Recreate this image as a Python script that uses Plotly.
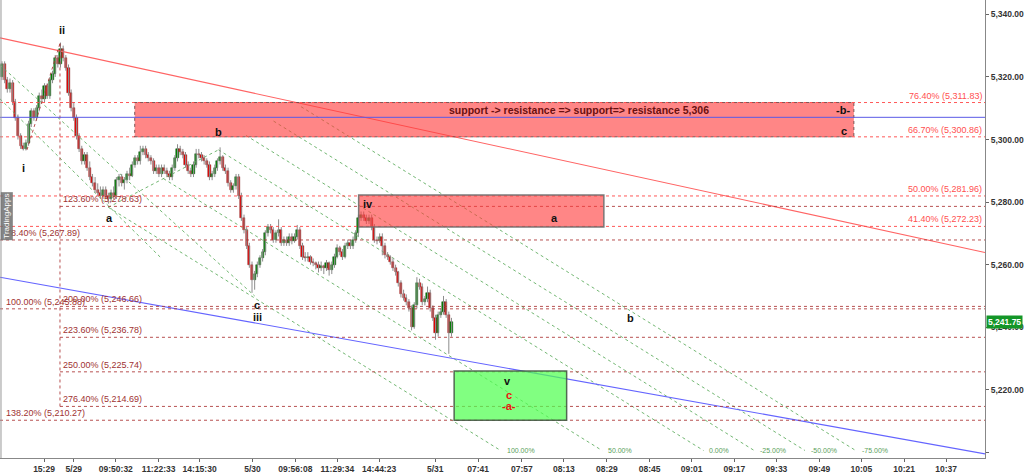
import plotly.graph_objects as go

# ---------------- data ----------------
opens = [5320,5324,5319,5316,5318,5312,5307,5301,5298,5297,5299,5305,5309,5307,5310,5314,5313,5317,5314,5319,
         5321,5326,5324,5329,5326,5323,5315,5310,5307,5301,5297,5293,5295,5291,5288,5286,5284,5283,5282,5284,
         5282,5281,5283,5282,5287,5288,5286,5287,5289,5288.5,5292,5294,5293,5296,5297,5295,5294,5293,5290,5291,
         5289,5291,5290,5289,5288,5291,5294,5297,5296,5295,5292,5290,5289,5292,5295.5,5295,5294,5293,5292,5288,
         5289,5291,5293,5294.5,5291,5290,5286,5284,5285,5288,5282,5275,5271,5266,5260,5255,5257,5260,5262,5264,
         5270,5272,5271,5268,5270,5271,5267,5268,5267,5269,5267.5,5269,5271,5266,5262.5,5262,5262.5,5261,5260.5,5260,
         5259,5259.5,5259,5260.5,5258.4,5260,5262.5,5265.4,5264,5262.5,5266,5267,5266,5268,5270,5275,5276,5275,5274,5275,
         5272,5268,5267.5,5269,5266,5263,5262.5,5261,5259,5257.5,5254,5250.5,5249.5,5248,5246,5240,5247,5254,5253,5248,
         5249,5251,5246,5243,5238,5244,5245,5248,5244,5238]
highs = [5325,5325,5320,5319.5,5319,5313,5308,5302,5299,5300,5306,5310,5310,5311,5315,5316,5318,5318,5320,5322,
         5327,5327,5331,5330,5327,5324,5316,5312,5308,5302,5298,5296,5296,5293,5289,5288,5286,5285,5285,5285,
         5283,5284,5285,5288,5289,5289,5288,5290,5291,5293,5295,5295,5298,5298,5298,5296,5295,5294,5292,5292,
         5292,5292,5291,5290,5292,5295,5298.5,5298,5297,5296,5293,5291,5293,5297,5297,5296,5295,5294,5293,5290,
         5292,5294,5297.5,5295,5292,5291,5287,5286,5289,5289,5283,5276,5272,5267,5261,5258,5261,5263,5265,5271,
         5273,5273,5272,5271,5274.5,5272,5269,5269,5270,5270,5270,5272.7,5272,5267,5264,5264,5263,5262,5261,5261,
         5261,5260,5261.5,5261,5261,5263.5,5266.5,5266,5265,5267,5268,5268,5269,5271,5276,5277,5277,5276,5276,5276,
         5273,5269,5270,5270,5267,5264,5263,5262,5260,5258,5255,5252,5250.5,5249,5247,5248,5256,5255.5,5254,5250,
         5253,5252,5247,5244,5245,5246,5250,5249,5245,5243]
lows = [5319,5318,5315,5315,5311,5306,5300,5297,5296.5,5296.5,5298,5304,5306,5306,5309,5312,5312,5313,5313,5318,
        5320,5323,5323,5325,5322,5314,5309,5306,5300,5296,5292,5292,5290,5287,5285,5283,5282,5281,5281,5281,
        5279.5,5280,5281,5281,5285,5285,5284,5286,5287,5288,5291,5292,5292,5295,5294,5293,5292,5289,5289,5288,
        5288,5289,5288,5287,5287,5290,5293,5295,5294,5291,5289,5288,5288,5291,5294,5293,5292,5291,5287,5287,
        5288,5290,5292,5290,5289,5285,5283,5283,5284,5281,5274,5270,5265,5259,5251,5252,5256,5259,5261,5263,
        5269,5270,5267,5267,5269,5266,5266,5266,5266,5266.5,5267,5268,5265,5261.5,5261,5261,5260,5259.5,5258.5,5257.5,
        5258,5257,5258,5256.5,5257,5259,5262,5263,5261.5,5262,5265,5265,5265,5267,5269,5274,5274,5273,5273,5271,
        5267,5266.5,5267,5263,5262,5261.5,5260,5258,5256.5,5253,5249.5,5248.5,5247,5245,5239,5239.5,5246,5252,5247,5247,
        5248,5245,5242,5236,5237,5243,5244,5243,5231.5,5237]
closes = [5324,5319,5316,5318,5312,5307,5301,5298,5297,5299,5305,5309,5307,5310,5314,5313,5317,5314,5319,5321,
          5326,5324,5329,5326,5323,5315,5310,5307,5301,5297,5293,5295,5291,5288,5286,5284,5283,5282,5284,5282,
          5281,5283,5282,5287,5288,5286,5287,5289,5288.5,5292,5294,5293,5296,5297,5295,5294,5293,5290,5291,5289,
          5291,5290,5289,5288,5291,5294,5297,5296,5295,5292,5290,5289,5292,5295.5,5295,5294,5293,5292,5288,5289,
          5291,5293,5294.5,5291,5290,5286,5284,5285,5288,5282,5275,5271,5266,5260,5255,5257,5260,5262,5264,5270,
          5272,5271,5268,5270,5271,5267,5268,5267,5269,5267.5,5269,5271,5266,5262.5,5262,5262.5,5261,5260.5,5260,5259,
          5259.5,5259,5260.5,5258.4,5260,5262.5,5265.4,5264,5262.5,5266,5267,5266,5268,5270,5275,5276,5275,5274,5275,5272,
          5268,5267.5,5269,5266,5263,5262.5,5261,5259,5257.5,5254,5250.5,5249.5,5248,5246,5240,5247,5254,5253,5248,5249,
          5251,5246,5243,5238,5244,5245,5248,5244,5238,5241.75]
bar_index = list(range(len(closes)))

# x-axis tick labels (positions in bar units)
tick_pos = [15.8, 27, 42.8, 58.9, 74.3, 94.2, 110.3, 126.1, 141.8, 162.9, 179, 195.5, 211.3,
            227.4, 243.5, 259.3, 275.4, 291.2, 307.3, 323.1, 339.2, 355]
tick_text = ["15:29", "5/29", "09:50:32", "11:22:33", "14:15:30", "5/30", "09:56:08", "11:29:34",
             "14:44:23", "5/31", "07:41", "07:57", "08:13", "08:29", "08:45", "09:01", "09:17",
             "09:33", "09:49", "10:05", "10:21", "10:37"]
y_ticks = [5200, 5220, 5240, 5260, 5280, 5300, 5320, 5340]

# Fibonacci levels
fib_red_labels = ["76.40%", "66.70%", "50.00%", "41.40%"]
fib_red_values = [5311.83, 5300.86, 5281.96, 5272.23]
fib_left_labels = ["78.40%", "100.00%", "138.20%"]
fib_left_values = [5267.89, 5245.88, 5210.27]
fib_mid_labels = ["123.60%", "200.00%", "223.60%", "250.00%", "276.40%"]
fib_mid_values = [5278.63, 5246.66, 5236.78, 5225.74, 5214.69]
fib_mid_start = 21.8   # bar of wave ii
fib_ii_bar, fib_ii_high = 21.8, 5330.7
fib_i_bar, fib_i_low = 9.4, 5296.7

# trend lines (bar, price)
red_trend_x = [-0.75, 369.6]
red_trend_y = [5332.5, 5263.9]
blue_trend_x = [-0.75, 369.6]
blue_trend_y = [5256.0, 5199.5]
blue_level = 5307.1

# zones
big_zone = dict(x0=49.9, x1=320.3, y0=5300.86, y1=5311.83)
iv_zone = dict(x0=134.1, x1=226.3, y0=5272.0, y1=5282.3)
v_zone = dict(x0=170.0, x1=212.3, y0=5210.3, y1=5226.0)

# fib channel (green dotted), anchored on wave a (100%) and wave b (0%)
chan_p0 = 5339.6      # 0% line price at bar 0
chan_slope = -0.527   # price per bar
chan_width = 40.2     # price per 100%
chan_a_bar = 40.0
chan_b_bar = 81.4
chan_levels = [1.0, 0.5, 0.0, -0.25, -0.5, -0.75]
chan_labels = ["100.00%", "50.00%", "0.00%", "-25.00%", "-50.00%", "-75.00%"]
chan_bottom = 5200.6

# older dotted guide lines at the left (bar, price pairs)
old_guide1_x = [-0.75, 95.0]
old_guide1_y = [5323.8, 5250.0]
old_guide2_x = [-0.75, 60.0]
old_guide2_y = [5313.0, 5262.0]

last_price = 5241.75

# ---------------- figure ----------------
X0, X1 = -0.75, 369.6
Y0, Y1 = 5198.2, 5344.6

fig = go.Figure()

red_fib = "rgba(255,70,70,0.9)"
brown_fib = "rgba(170,50,50,0.85)"
green_dot = "rgba(90,170,90,0.85)"
lab_font = dict(size=9, family="Arial")

shapes = []
annotations = []

for lab, v in zip(fib_red_labels, fib_red_values):
    shapes.append(dict(type="line", xref="x", yref="y", x0=X0, x1=X1, y0=v, y1=v,
                       line=dict(color=red_fib, width=1, dash="dot")))
    annotations.append(dict(x=X1 - 0.2, y=v, xref="x", yref="y", text=f"{lab} ({v:,.2f})",
                            showarrow=False, xanchor="right", yanchor="bottom",
                            font=dict(lab_font, color="rgb(255,80,80)")))
for lab, v in zip(fib_left_labels, fib_left_values):
    shapes.append(dict(type="line", xref="x", yref="y", x0=X0, x1=X1, y0=v, y1=v,
                       line=dict(color=brown_fib, width=1, dash="dot")))
    annotations.append(dict(x=0.6, y=v, xref="x", yref="y", text=f"{lab} ({v:,.2f})",
                            showarrow=False, xanchor="left", yanchor="bottom",
                            font=dict(lab_font, color="rgb(160,50,50)")))
for lab, v in zip(fib_mid_labels, fib_mid_values):
    shapes.append(dict(type="line", xref="x", yref="y", x0=fib_mid_start, x1=X1, y0=v, y1=v,
                       line=dict(color=brown_fib, width=1, dash="dot")))
    annotations.append(dict(x=fib_mid_start + 0.3, y=v, xref="x", yref="y", text=f"{lab} ({v:,.2f})",
                            showarrow=False, xanchor="left", yanchor="bottom",
                            font=dict(lab_font, color="rgb(160,50,50)")))
shapes.append(dict(type="line", xref="x", yref="y", x0=fib_mid_start, x1=fib_mid_start,
                   y0=fib_ii_high, y1=min(fib_mid_values),
                   line=dict(color=brown_fib, width=1, dash="dot")))
shapes.append(dict(type="line", xref="x", yref="y", x0=fib_i_bar, x1=fib_ii_bar,
                   y0=fib_i_low, y1=fib_ii_high,
                   line=dict(color=brown_fib, width=1, dash="dot")))

# zones
shapes.append(dict(type="rect", xref="x", yref="y", **big_zone,
                   fillcolor="rgba(255,60,60,0.62)", line=dict(color="rgba(90,60,60,0.8)", width=1, dash="dot"),
                   layer="above"))
shapes.append(dict(type="rect", xref="x", yref="y", **iv_zone,
                   fillcolor="rgba(255,60,60,0.62)", line=dict(color="rgba(110,110,110,0.9)", width=1.5),
                   layer="above"))
shapes.append(dict(type="rect", xref="x", yref="y", **v_zone,
                   fillcolor="rgba(80,255,80,0.72)", line=dict(color="rgba(70,90,70,0.9)", width=1.5),
                   layer="above"))

# channel lines, each starting on the a-b boundary line
for L, lab in zip(chan_levels, chan_labels):
    base = chan_p0 - chan_width * L
    s_bar = chan_b_bar + (chan_a_bar - chan_b_bar) * L
    i_end = (chan_bottom - base) / chan_slope
    fig.add_trace(go.Scatter(x=[s_bar, i_end], y=[base + chan_slope * s_bar, chan_bottom], mode="lines",
                             line=dict(color=green_dot, width=1, dash="dot"),
                             hoverinfo="skip", showlegend=False))
    annotations.append(dict(x=i_end + 1.5, y=chan_bottom, xref="x", yref="y", text=lab,
                            showarrow=False, xanchor="left", yanchor="middle",
                            font=dict(size=7, color="rgb(90,160,90)", family="Arial")))
fig.add_trace(go.Scatter(x=[chan_a_bar, chan_b_bar],
                         y=[chan_p0 - chan_width + chan_slope * chan_a_bar, chan_p0 + chan_slope * chan_b_bar],
                         mode="lines", line=dict(color=green_dot, width=1, dash="dot"),
                         hoverinfo="skip", showlegend=False))
for gx, gy in [(old_guide1_x, old_guide1_y), (old_guide2_x, old_guide2_y)]:
    fig.add_trace(go.Scatter(x=gx, y=gy, mode="lines", line=dict(color=green_dot, width=1, dash="dot"),
                             hoverinfo="skip", showlegend=False))

# trend lines
fig.add_trace(go.Scatter(x=red_trend_x, y=red_trend_y, mode="lines",
                         line=dict(color="rgb(255,100,100)", width=1.1), hoverinfo="skip", showlegend=False))
fig.add_trace(go.Scatter(x=blue_trend_x, y=blue_trend_y, mode="lines",
                         line=dict(color="rgb(100,100,255)", width=1.1), hoverinfo="skip", showlegend=False))
shapes.append(dict(type="line", xref="x", yref="y", x0=X0, x1=X1, y0=blue_level, y1=blue_level,
                   line=dict(color="rgb(90,90,230)", width=1), layer="above"))

# candles: gray wicks, coloured bodies
wick_x, wick_y = [], []
for i, h, l in zip(bar_index, highs, lows):
    wick_x += [i, i, None]
    wick_y += [l, h, None]
fig.add_trace(go.Scatter(x=wick_x, y=wick_y, mode="lines", line=dict(color="rgb(140,140,140)", width=1),
                         hoverinfo="skip", showlegend=False))
body_colors = ["rgb(0,135,0)" if c >= o else "rgb(240,0,0)" for o, c in zip(opens, closes)]
body_edges = ["rgb(20,70,20)" if c >= o else "rgb(120,30,30)" for o, c in zip(opens, closes)]
fig.add_trace(go.Bar(x=bar_index, base=opens, y=[c - o for o, c in zip(opens, closes)], width=0.8,
                     marker=dict(color=body_colors, line=dict(color=body_edges, width=0.5)),
                     hoverinfo="skip", showlegend=False))

# wave labels
wave_txt = [("i", 7.9, 5291.0), ("ii", 22.5, 5335.0), ("a", 40.5, 5275.0), ("b", 81.4, 5302.5),
            ("c", 95.7, 5247.0), ("iii", 96.1, 5243.2), ("iv", 137.7, 5279.5), ("a", 207.9, 5275.0),
            ("b", 236.4, 5242.8), ("-b-", 316.3, 5309.5), ("c", 316.7, 5302.8), ("v", 189.9, 5222.8)]
for t, xx, yy in wave_txt:
    annotations.append(dict(x=xx, y=yy, xref="x", yref="y", text=t, showarrow=False,
                            font=dict(size=11, color="#111", family="Arial", weight="bold")))
for t, xx, yy in [("c", 190.6, 5218.4), ("-a-", 190.6, 5214.9)]:
    annotations.append(dict(x=xx, y=yy, xref="x", yref="y", text=t, showarrow=False,
                            font=dict(size=11, color="#ee1111", family="Arial", weight="bold")))
annotations.append(dict(x=216.9, y=5309.5, xref="x", yref="y",
                        text="support -> resistance => support=> resistance 5,306", showarrow=False,
                        font=dict(size=10.5, color="#6a1010", family="Arial", weight="bold")))

annotations.append(dict(x=1.0, y=last_price, xref="paper", yref="y", text=f"{last_price:,.2f}",
                        showarrow=False, xanchor="left", yanchor="middle", xshift=1,
                        bgcolor="rgb(20,150,40)", font=dict(size=8.5, color="white", family="Arial", weight="bold"),
                        borderpad=1))
annotations.append(dict(x=0.0, y=5275.5, xref="paper", yref="y", text="TradingApps", showarrow=False,
                        textangle=-90, xanchor="left", xshift=0, bgcolor="rgba(110,110,110,0.85)",
                        font=dict(size=8, color="white", family="Arial"), borderpad=1))

shapes.append(dict(type="line", xref="paper", yref="paper", x0=0.001, x1=0.001, y0=0, y1=1,
                   line=dict(color="#999", width=1)))

fig.update_layout(
    width=1024, height=474,
    margin=dict(l=0, r=37, t=0, b=15),
    paper_bgcolor="white", plot_bgcolor="white",
    shapes=shapes, annotations=annotations,
    showlegend=False, barmode="overlay", bargap=0,
    xaxis=dict(range=[X0, X1], showgrid=False, zeroline=False,
               tickmode="array", tickvals=tick_pos, ticktext=tick_text, ticks="outside", ticklen=3,
               tickcolor="#666", showline=True, linecolor="#888", linewidth=1,
               tickfont=dict(size=8.5, color="#333", family="Arial", weight="bold")),
    yaxis=dict(range=[Y0, Y1], side="right", showgrid=False, zeroline=False,
               tickmode="array", tickvals=y_ticks,
               ticktext=["" if v == 5200 else f"{v:,.2f}" for v in y_ticks],
               ticks="outside", ticklen=3, tickcolor="#666", showline=True, linecolor="#888", linewidth=1,
               tickfont=dict(size=8.5, color="#333", family="Arial", weight="bold")),
)

fig.write_html("out.html", config={"displayModeBar": False},
               post_script="document.body.style.margin='0';")
